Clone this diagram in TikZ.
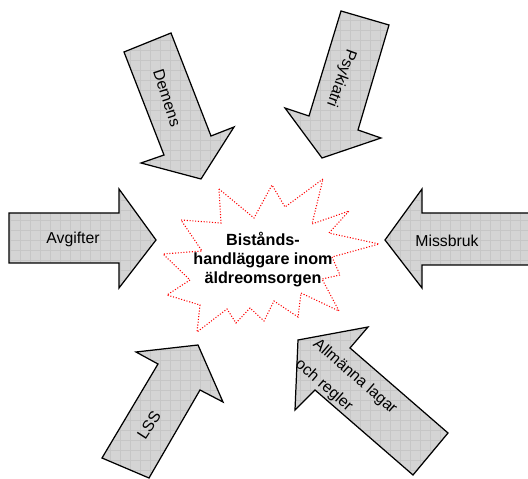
\documentclass[tikz,border=0pt]{standalone}
\usepackage{fontspec}
\setmainfont{Liberation Sans}

\definecolor{arrowGray}{RGB}{212,212,212}
\definecolor{gridGray}{RGB}{198,198,198}

\tikzstyle{arrowBody}=[draw=black, line width=0.7pt, line join=miter]
\tikzstyle{arrowGrid}=[draw=gridGray, line width=0.3pt]
\tikzstyle{starLine}=[draw=red, densely dotted, line width=0.6pt]
\tikzstyle{arrowLabel}=[inner sep=0pt, font=\fontsize{9}{11}\selectfont]

\newcommand{\gridArrow}[1]{%
  \fill[arrowGray] #1 -- cycle;
  \begin{scope}
    \clip #1 -- cycle;
    \draw[arrowGrid] (0,0) grid[step=0.2cm] (540,480);
  \end{scope}
  \draw[arrowBody] #1 -- cycle;
}

\begin{document}
\begin{tikzpicture}[x=0.02cm, y=-0.02cm]
		\useasboundingbox (0,0) rectangle (528,479);
		
		% the six arrows
		\gridArrow{(9,213) -- (119,213) -- (119,189) -- (156,240) -- (119,288) -- (119,263) -- (9,263)}
		\gridArrow{(536,213) -- (422,213) -- (422,189) -- (385,240) -- (422,288) -- (422,265) -- (536,265)}
		\gridArrow{(124,52) -- (171,33) -- (211,136) -- (234,127) -- (201,179) -- (141,163) -- (164,155)}
		\gridArrow{(341,11) -- (389,25) -- (358,130) -- (381,138) -- (322,158) -- (285,108) -- (309,116)}
		\gridArrow{(102,458) -- (158,364) -- (136,352) -- (198,345) -- (223,402) -- (200,390) -- (149,478)}
		\gridArrow{(448,433) -- (350,348) -- (368,327) -- (298,340) -- (295,410) -- (315,390) -- (413,475)}
		
		% the star in the middle
		\draw[starLine] (219,189) -- (254,218) -- (272,185) -- (285,207) -- (323,179) -- (312,224)
			-- (349,211) -- (329,233) -- (379,244) -- (332,257) -- (340,275) -- (322,279)
			-- (339,311) -- (301,293) -- (298,317) -- (274,301) -- (264,321) -- (250,308)
			-- (236,323) -- (227,309) -- (197,332) -- (200,305) -- (167,295) -- (190,280)
			-- (163,254) -- (202,251) -- (181,220) -- (221,223) -- cycle;
		
		\node[arrowLabel] (avgifter) at (73,239) {Avgifter};
		\node[arrowLabel] (missbruk) at (447,241) {Missbruk};
		\node[arrowLabel, rotate=-72] (demens) at (167,98) {Demens};
		\node[arrowLabel, rotate=-110] (psykiatri) at (341,78) {Psykiatri};
		\node[arrowLabel, rotate=57] (lss) at (149,425) {LSS};
		\node[arrowLabel, rotate=-41, align=left, font=\fontsize{9}{15.4}\selectfont] (lagar) at (346,387) {Allmänna lagar\\och regler};
		\node[arrowLabel, align=center, font=\bfseries\fontsize{9.2}{10.8}\selectfont] (handlaggare) at (263,260) {Bistånds-\\handläggare inom\\äldreomsorgen};
\end{tikzpicture}
\end{document}
